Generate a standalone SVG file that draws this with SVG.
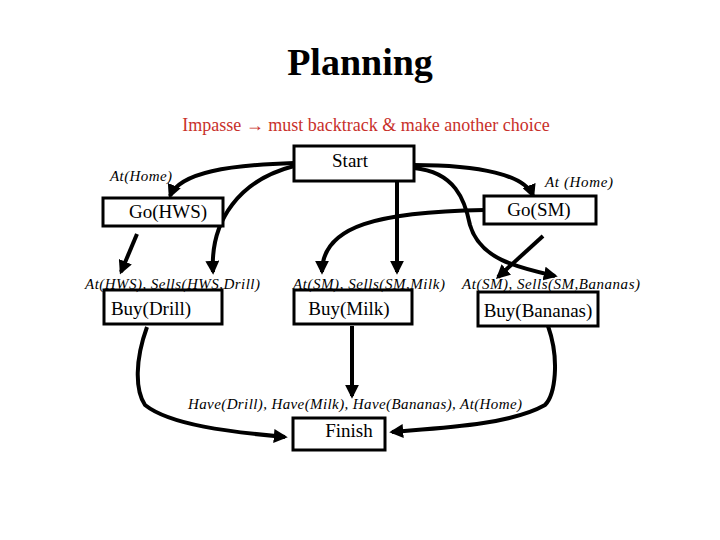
<svg xmlns="http://www.w3.org/2000/svg" width="720" height="540" viewBox="0 0 720 540">
<style>
.box{fill:#fff;stroke:#000;stroke-width:3}
.t{font-family:"Liberation Serif",serif;font-size:19px;text-anchor:middle}
.l{font-family:"Liberation Serif",serif;font-style:italic;font-size:15px}
.c{fill:none;stroke:#000;stroke-width:4;marker-end:url(#a)}
</style>
<defs><marker id="a" viewBox="0 0 10 10" refX="8" refY="5" markerWidth="3.5" markerHeight="3.5" orient="auto" markerUnits="strokeWidth"><path d="M0,0L10,5L0,10z" fill="#000"/></marker></defs>
<rect width="720" height="540" fill="#fff"/>
<text x="360" y="75" font-family="Liberation Serif,serif" font-size="38" font-weight="bold" text-anchor="middle">Planning</text>
<text x="366" y="131" font-family="Liberation Serif,serif" font-size="18" fill="#c8302a" text-anchor="middle">Impasse → must backtrack &amp; make another choice</text>
<g id="connectors">
<path class="c" d="M294,163 C230,165 180,172 170,196"/>
<path class="c" d="M294,166 C240,180 210,220 213,272"/>
<path class="c" d="M137,234 L121,272"/>
<path class="c" d="M397,182 L397,272"/>
<path class="c" d="M414,165 C480,165 525,175 533,196"/>
<path class="c" d="M414,168 C455,172 465,200 470,225 C480,260 520,268 555,276"/>
<path class="c" d="M484,210 C380,212 322,225 322,272"/>
<path class="c" d="M543,236 L498,277"/>
<path class="c" d="M352,326 L352,396"/>
<path class="c" d="M147,327 C135,360 135,390 145,405 C170,425 230,432 285,437"/>
<path class="c" d="M548,326 C560,360 555,395 545,405 C510,425 440,428 392,432"/>
</g>
<g id="start"><rect class="box" x="294" y="146" width="120" height="35"/><text class="t" x="350" y="167" font-size="17">Start</text></g>
<g id="gohws"><rect class="box" x="103" y="198" width="120" height="28"/><text class="t" x="168" y="218">Go(HWS)</text></g>
<g id="gosm"><rect class="box" x="484" y="196" width="112" height="28"/><text class="t" x="539" y="216">Go(SM)</text></g>
<g id="buydrill"><rect class="box" x="104" y="290" width="118" height="34"/><text class="t" x="151" y="315">Buy(Drill)</text></g>
<g id="buymilk"><rect class="box" x="294" y="290" width="118" height="34"/><text class="t" x="349" y="315">Buy(Milk)</text></g>
<g id="buybananas"><rect class="box" x="478" y="292" width="120" height="34"/><text class="t" x="538" y="317">Buy(Bananas)</text></g>
<g id="finish"><rect class="box" x="293" y="418" width="92" height="32"/><text class="t" x="349" y="437">Finish</text></g>
<g id="labels">
<text class="l" x="110" y="181" textLength="62">At(Home)</text>
<text class="l" x="545" y="187" textLength="68">At (Home)</text>
<text class="l" x="85" y="289" textLength="175">At(HWS), Sells(HWS,Drill)</text>
<text class="l" x="293" y="289" textLength="152">At(SM), Sells(SM,Milk)</text>
<text class="l" x="462" y="289" textLength="178">At(SM), Sells(SM,Bananas)</text>
<text class="l" x="188" y="409" textLength="334">Have(Drill), Have(Milk), Have(Bananas), At(Home)</text>
</g>
</svg>
